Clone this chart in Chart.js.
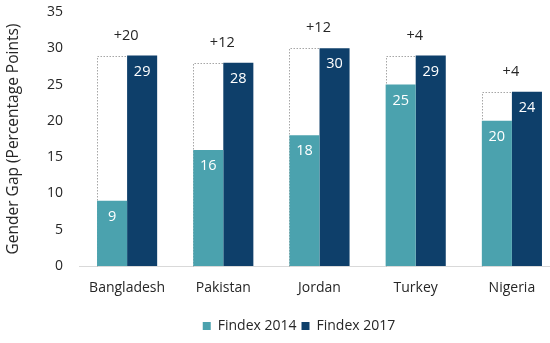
<!DOCTYPE html>
<html>
<head>
<meta charset="utf-8">
<script src="https://cdn.jsdelivr.net/npm/chart.js@4.4.1/dist/chart.umd.min.js"></script>
<style>
  html, body { margin: 0; padding: 0; background: #fff; overflow: hidden; }
  #wrap { width: 562px; height: 343px; position: relative; }
</style>
</head>
<body>
<div id="wrap"><canvas id="c"></canvas></div>
<script>
const categories = ["Bangladesh", "Pakistan", "Jordan", "Turkey", "Nigeria"];
const findex2014 = [9, 16, 18, 25, 20];
const findex2017 = [29, 28, 30, 29, 24];
const seriesNames = ["Findex 2014", "Findex 2017"];
const yTicks = [0, 5, 10, 15, 20, 25, 30, 35];

const FONT = "'Open Sans', sans-serif";
const TEXT = "#262626";

const gapPlugin = {
  id: "gapPlugin",
  afterLayout(chart) {
    // shift the legend row to where the reference places it
    const lg = chart.legend;
    if (lg) { lg.left += 17; lg.right += 17; }
  },
  beforeDatasetsDraw(chart) {
    const ctx = chart.ctx;
    const meta = chart.getDatasetMeta(0);
    const y = chart.scales.y;
    ctx.save();
    ctx.strokeStyle = "#a6a6a6";
    ctx.lineWidth = 1;
    ctx.setLineDash([1.5, 1.5]);
    meta.data.forEach((bar, i) => {
      const left = Math.round(bar.x - bar.width / 2) + 0.5;
      const right = Math.round(bar.x + bar.width / 2) + 0.5;
      const top = Math.round(y.getPixelForValue(findex2017[i])) + 0.5;
      const bottom = Math.round(y.getPixelForValue(0)) + 0.5;
      ctx.beginPath();
      ctx.moveTo(left, bottom);
      ctx.lineTo(left, top);
      ctx.lineTo(right, top);
      ctx.stroke();
    });
    ctx.restore();
  },
  afterDatasetsDraw(chart) {
    const ctx = chart.ctx;
    const y = chart.scales.y;
    ctx.save();
    ctx.textAlign = "center";
    ctx.textBaseline = "middle";
    ctx.font = "14.5px " + FONT;
    ctx.fillStyle = "#ffffff";
    [0, 1].forEach(d => {
      const meta = chart.getDatasetMeta(d);
      const vals = d === 0 ? findex2014 : findex2017;
      meta.data.forEach((bar, i) => {
        ctx.fillText(String(vals[i]), bar.x, bar.y + 16);
      });
    });
    ctx.fillStyle = TEXT;
    const m0 = chart.getDatasetMeta(0), m1 = chart.getDatasetMeta(1);
    categories.forEach((c, i) => {
      const cx = (m0.data[i].x - m0.data[i].width / 2 + m1.data[i].x + m1.data[i].width / 2) / 2;
      const top = y.getPixelForValue(Math.max(findex2014[i], findex2017[i]));
      ctx.fillText("+" + (findex2017[i] - findex2014[i]), cx - 1, top - 20);
    });
    ctx.restore();
  }
};

new Chart(document.getElementById("c"), {
  type: "bar",
  data: {
    labels: categories,
    datasets: [
      { label: seriesNames[0], data: findex2014, backgroundColor: "#4ba2ae", borderWidth: 0 },
      { label: seriesNames[1], data: findex2017, backgroundColor: "#0e3f6a", borderWidth: 0 }
    ]
  },
  options: {
    responsive: true,
    maintainAspectRatio: false,
    animation: false,
    layout: { padding: { top: 12, right: 2, left: 4, bottom: 0 } },
    datasets: { bar: { categoryPercentage: 0.625, barPercentage: 1 } },
    plugins: {
      legend: {
        position: "bottom",
        labels: {
          font: { family: FONT, size: 14 },
          color: TEXT,
          boxWidth: 8,
          boxHeight: 8,
          padding: 5
        }
      },
      tooltip: { enabled: false }
    },
    scales: {
      x: {
        grid: { display: false, drawTicks: false },
        border: { color: "#d9d9d9", width: 1 },
        ticks: { font: { family: FONT, size: 14 }, color: TEXT, padding: 14 },
        afterFit(s) { s.height = 48; s.paddingLeft = 0; s.paddingRight = 0; }
      },
      y: {
        min: 0, max: 35,
        afterBuildTicks(s) { s.ticks = yTicks.map(v => ({ value: v })); },
        grid: { display: false, drawTicks: false },
        border: { display: false },
        ticks: { font: { family: FONT, size: 14 }, color: TEXT, padding: 16 },
        title: { display: true, text: "Gender Gap (Percentage Points)", font: { family: FONT, size: 15.5 }, color: TEXT, padding: 0 },
        afterFit(s) { s.width = 75; s.paddingTop = 0; s.paddingBottom = 0; }
      }
    }
  },
  plugins: [gapPlugin]
});
</script>
</body>
</html>
